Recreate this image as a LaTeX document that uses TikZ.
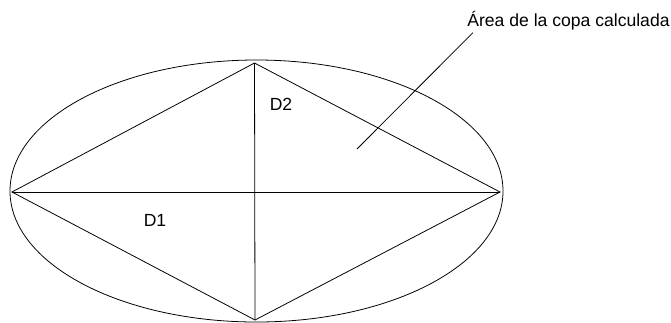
\documentclass[tikz,border=0pt]{standalone}
\usepackage{fontspec}
\setmainfont{Liberation Sans}
\usetikzlibrary{calc, positioning}

\begin{document}
\begin{tikzpicture}[x=0.02cm, y=-0.02cm, line width=0.45pt,
  every node/.style={font=\fontsize{10pt}{12pt}\selectfont, inner sep=0pt}]
  \useasboundingbox (0,0) rectangle (671,322);
  % crown outline
  \draw (256.5,191) ellipse [x radius=246.5, y radius=131];
  % diamond vertices
  \coordinate (wv) at (12,192);
  \coordinate (nv) at (254.5,63);
  \coordinate (ev) at (500,192);
  \coordinate (sv) at (255,320);
  \draw (wv) -- (nv) -- (ev) -- (sv) -- cycle;
  % diagonals
  \draw (wv) -- (ev);
  \draw (nv) -- (sv);
  \node (dA) at (155,220.5) {D1};
  \node (dB) at (281,104.5) {D2};
  % callout
  \node[anchor=base west] (area) at (467,26) {Área de la copa calculada};
  \coordinate (areaEnd) at (357,149);
  \draw ($(area.south west)+(6,2.5)$) -- (areaEnd);
\end{tikzpicture}
\end{document}
